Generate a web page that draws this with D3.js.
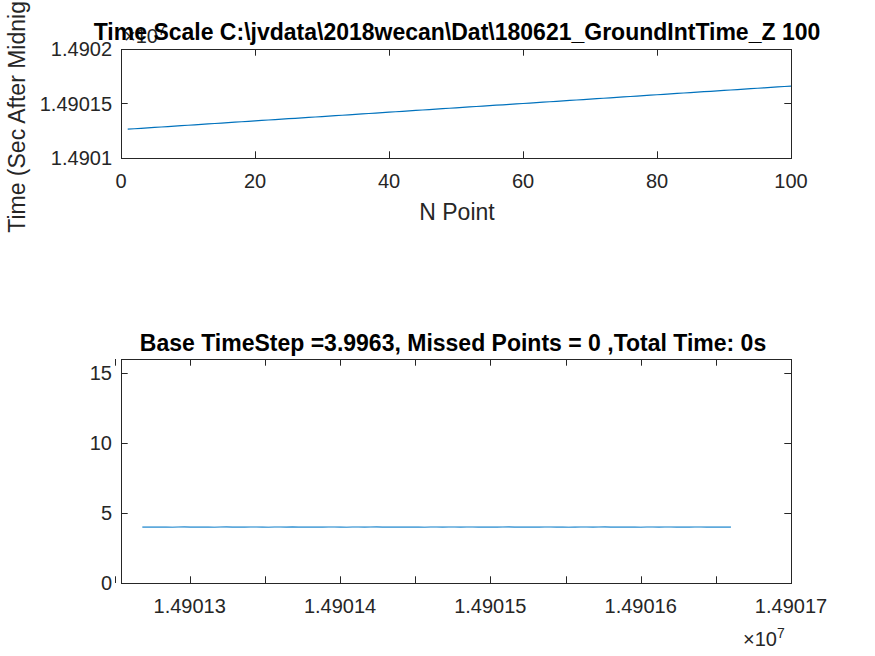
<!DOCTYPE html>
<html>
<head>
<meta charset="utf-8">
<script src="https://d3js.org/d3.v7.min.js"></script>
<style>
  body { margin: 0; background: #fff; }
  svg text { font-family: "Liberation Sans", Arial, sans-serif; }
</style>
</head>
<body>
<div id="chart"></div>
<script>
// start time (sec after midnight) and the 99 measured time steps
var startTime = 14901264.5;
var timeSteps = [
  3.99, 4.00, 3.99, 4.00, 3.99, 3.98, 4.00, 4.01, 3.99, 4.00,
  3.99, 4.00, 3.98, 4.00, 4.01, 3.99, 4.00, 3.99, 4.00, 4.00,
  3.99, 3.98, 4.00, 4.00, 3.99, 4.01, 3.99, 4.00, 3.99, 4.00,
  3.99, 4.00, 4.00, 3.99, 3.98, 4.00, 4.00, 3.99, 4.00, 4.01,
  3.99, 4.00, 3.99, 4.00, 3.99, 4.00, 3.99, 3.98, 4.00, 4.00,
  3.99, 4.00, 4.00, 3.99, 4.00, 4.00, 3.99, 4.00, 3.99, 3.99,
  4.00, 4.01, 3.99, 4.00, 3.99, 4.00, 3.99, 4.00, 4.00, 3.99,
  4.00, 3.98, 3.99, 4.00, 4.00, 3.99, 4.00, 4.01, 3.99, 4.00,
  3.99, 4.00, 3.99, 3.98, 4.00, 4.00, 3.99, 4.00, 4.00, 3.99,
  4.00, 3.99, 4.00, 4.00, 3.99, 4.00, 3.99, 4.00, 3.99
];

var topTitle = "Time Scale C:\\jvdata\\2018wecan\\Dat\\180621_GroundIntTime_Z 100";
var bottomTitle = "Base TimeStep =3.9963, Missed Points = 0 ,Total Time: 0s";
var topXTicks = [0, 20, 40, 60, 80, 100];
var topYTicks = [1.4901, 1.49015, 1.4902];          // x 10^7
var bottomYTicks = [0, 5, 10, 15];
var bottomXTicks = [1.490125, 1.49013, 1.490135, 1.49014, 1.490145, 1.49015,
                    1.490155, 1.49016, 1.490165, 1.49017]; // x 10^7
var bottomXLabels = [1.49013, 1.49014, 1.49015, 1.49016, 1.49017];

// build the time series from the steps
var times = [startTime];
timeSteps.forEach(function (s) { times.push(times[times.length - 1] + s); });
var topData = times.map(function (t, i) { return { n: i + 1, t: t / 1e7 }; });
// each step is plotted against the time at the end of the step
var bottomData = timeSteps.map(function (s, i) { return { t: times[i + 1] / 1e7, s: s }; });

var width = 875, height = 656;
var axColor = "#262626";
var lineColor = "#0072BD";

var svg = d3.select("#chart").append("svg")
    .attr("width", width)
    .attr("height", height);

var left = 121, right = 791;
var tickLen = 6.7;

function drawBox(g, x0, x1, y0, y1) {
    g.append("rect")
        .attr("x", x0 + 0.5).attr("y", y0 + 0.5)
        .attr("width", x1 - x0).attr("height", y1 - y0)
        .attr("fill", "none")
        .attr("stroke", axColor)
        .attr("stroke-width", 1);
}

// ---------- top axes ----------
var top1 = 49, bot1 = 158;
var x1 = d3.scaleLinear().domain([0, 100]).range([left, right]);
var y1 = d3.scaleLinear().domain([1.4901, 1.4902]).range([bot1, top1]);

var g1 = svg.append("g");
drawBox(g1, left, right, top1, bot1);

topXTicks.forEach(function (v) {
    var xp = Math.round(x1(v)) + 0.5;
    g1.append("line").attr("x1", xp).attr("x2", xp).attr("y1", bot1).attr("y2", bot1 - tickLen)
        .attr("stroke", axColor);
    g1.append("line").attr("x1", xp).attr("x2", xp).attr("y1", top1).attr("y2", top1 + tickLen)
        .attr("stroke", axColor);
    g1.append("text").attr("x", x1(v)).attr("y", bot1 + 30)
        .attr("text-anchor", "middle").attr("font-size", 20).attr("fill", axColor)
        .text(v);
});
topYTicks.forEach(function (v) {
    var yp = Math.round(y1(v)) + 0.5;
    g1.append("line").attr("x1", left).attr("x2", left + tickLen).attr("y1", yp).attr("y2", yp)
        .attr("stroke", axColor);
    g1.append("line").attr("x1", right).attr("x2", right - tickLen).attr("y1", yp).attr("y2", yp)
        .attr("stroke", axColor);
    g1.append("text").attr("x", left - 9).attr("y", y1(v) + 7)
        .attr("text-anchor", "end").attr("font-size", 20).attr("fill", axColor)
        .text(+v.toFixed(6));
});

// exponent label
var exp1 = g1.append("text").attr("x", left + 3).attr("y", top1 - 6)
    .attr("font-size", 20).attr("fill", axColor);
exp1.append("tspan").text("\u00d710");
exp1.append("tspan").attr("dy", -8).attr("font-size", 14).text("7");

var line1 = d3.line().x(function (d) { return x1(d.n); }).y(function (d) { return y1(d.t); });
g1.append("path").datum(topData)
    .attr("d", line1)
    .attr("fill", "none")
    .attr("stroke", lineColor)
    .attr("stroke-width", 1.2);

g1.append("text").attr("x", (left + right) / 2 + 1).attr("y", 220)
    .attr("text-anchor", "middle").attr("font-size", 23).attr("fill", axColor)
    .text("N Point");

g1.append("text")
    .attr("transform", "translate(25," + ((top1 + bot1) / 2) + ") rotate(-90)")
    .attr("text-anchor", "middle").attr("font-size", 23).attr("fill", axColor)
    .text("Time (Sec After Midnight)");

g1.append("text").attr("x", (left + right) / 2 + 1).attr("y", top1 - 9)
    .attr("text-anchor", "middle").attr("font-size", 23).attr("font-weight", "bold")
    .attr("fill", "#000")
    .text(topTitle);

// ---------- bottom axes ----------
var top2 = 359, bot2 = 583;
var x2 = d3.scaleLinear().domain([1.49012543, 1.49017]).range([left, right]);
var y2 = d3.scaleLinear().domain([0, 16]).range([bot2, top2]);

var g2 = svg.append("g");
drawBox(g2, left, right, top2, bot2);

bottomXTicks.forEach(function (v) {
    var xp = Math.round(x2(v)) + 0.5;
    g2.append("line").attr("x1", xp).attr("x2", xp).attr("y1", bot2).attr("y2", bot2 - tickLen)
        .attr("stroke", axColor);
    g2.append("line").attr("x1", xp).attr("x2", xp).attr("y1", top2).attr("y2", top2 + tickLen)
        .attr("stroke", axColor);
});
bottomXLabels.forEach(function (v) {
    g2.append("text").attr("x", x2(v)).attr("y", bot2 + 30)
        .attr("text-anchor", "middle").attr("font-size", 20).attr("fill", axColor)
        .text(v.toFixed(5));
});
bottomYTicks.forEach(function (v) {
    var yp = Math.round(y2(v)) + 0.5;
    g2.append("line").attr("x1", left).attr("x2", left + tickLen).attr("y1", yp).attr("y2", yp)
        .attr("stroke", axColor);
    g2.append("line").attr("x1", right).attr("x2", right - tickLen).attr("y1", yp).attr("y2", yp)
        .attr("stroke", axColor);
    g2.append("text").attr("x", left - 9).attr("y", y2(v) + 7)
        .attr("text-anchor", "end").attr("font-size", 20).attr("fill", axColor)
        .text(v);
});

var exp2 = g2.append("text").attr("x", right - 48).attr("y", bot2 + 63)
    .attr("font-size", 20).attr("fill", axColor);
exp2.append("tspan").text("\u00d710");
exp2.append("tspan").attr("dy", -8).attr("font-size", 14).text("7");

var line2 = d3.line().x(function (d) { return x2(d.t); }).y(function (d) { return y2(d.s); });
g2.append("path").datum(bottomData)
    .attr("d", line2)
    .attr("fill", "none")
    .attr("stroke", "#5ea9dc")
    .attr("stroke-width", 1.6);

g2.append("text").attr("x", (left + right) / 2 - 3).attr("y", top2 - 8)
    .attr("text-anchor", "middle").attr("font-size", 23).attr("font-weight", "bold")
    .attr("fill", "#000")
    .text(bottomTitle);
</script>
</body>
</html>
